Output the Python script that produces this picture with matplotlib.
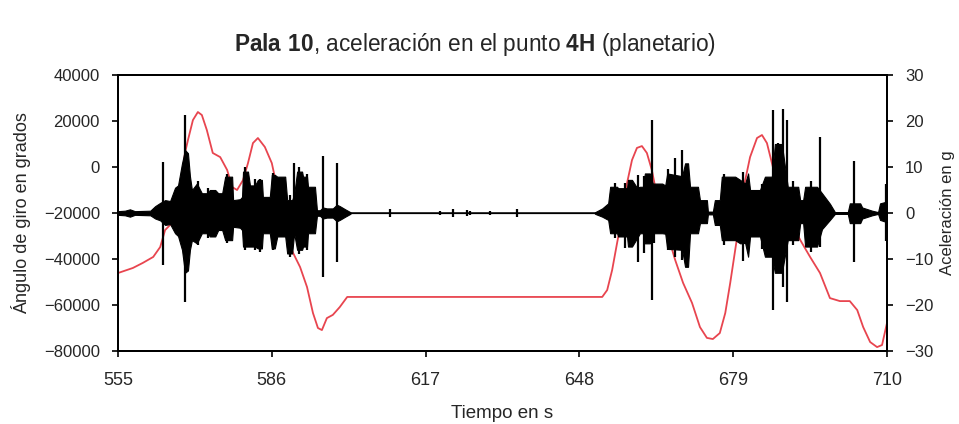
import matplotlib
matplotlib.use("Agg")
import matplotlib.pyplot as plt
import numpy as np

plt.rcParams['font.family'] = ['Liberation Sans', 'DejaVu Sans']
plt.rcParams['mathtext.fontset'] = 'custom'
plt.rcParams['mathtext.rm'] = 'Liberation Sans'
plt.rcParams['mathtext.bf'] = 'Liberation Sans:bold'

# ---- Ángulo de giro (red, left axis) ----
angle_t = [555.0, 558.0, 560.0, 562.1, 563.5, 564.5, 565.5, 566.5, 567.5, 568.5,
           569.1, 570.1, 571.1, 571.9, 572.9, 574.1, 575.6, 577.0, 578.0, 579.0,
           580.2, 581.2, 582.2, 583.2, 584.6, 586.0, 587.6, 589.0, 590.3, 591.7,
           593.1, 594.3, 595.3, 596.1, 597.1, 598.3, 599.7, 601.2, 607.8, 652.6,
           653.6, 654.6, 655.6, 656.6, 657.6, 658.6, 659.6, 660.6, 661.6, 662.6,
           663.8, 665.7, 667.3, 668.9, 670.7, 672.3, 673.7, 674.9, 676.3, 677.4,
           678.4, 679.8, 681.0, 682.4, 683.8, 684.8, 685.8, 687.0, 688.4, 690.5,
           692.5, 694.5, 696.5, 698.5, 700.5, 702.5, 704.0, 705.2, 706.6, 708.0,
           709.0, 710.0]
angle_v = [-46100, -43900, -41700, -39100, -34800, -27400, -25200, -23000, -11300, 6100,
           11700, 20400, 23900, 22600, 16100, 6100, 4300, -1300, -8700, -10000,
           -5700, 1700, 10400, 12600, 8700, 1700, -14300, -30400, -37400, -43500,
           -52200, -63500, -70000, -70900, -65700, -64300, -60900, -56500, -56500, -56500,
           -53500, -44800, -33000, -21700, -7000, 3000, 8300, 9100, 6100, -1300,
           -14300, -28700, -40400, -50400, -59100, -69600, -74300, -74800, -72200, -63500,
           -50400, -30400, -10000, 4300, 12600, 13900, 10400, 0, -11300, -23000,
           -31700, -39100, -46100, -57000, -58300, -58300, -62200, -69600, -76100, -78300,
           -77400, -67800]

# ---- Aceleración (black, right axis): envelope of the vibration signal ----
env_t = [555.0, 556.4, 557.4, 558.4, 561.5, 562.5, 563.5, 564.5, 565.5, 566.5,
         567.1, 567.9, 568.5, 569.1, 569.5, 569.9, 570.9, 571.9, 573.1, 573.5,
         574.6, 575.2, 576.0, 576.6, 578.0, 578.2, 579.6, 580.0, 580.2, 581.2,
         581.6, 582.6, 583.2, 584.0, 584.2, 585.6, 586.0, 586.6, 587.1, 588.7,
         589.1, 590.1, 590.5, 591.1, 592.1, 592.3, 593.1, 593.3, 594.7, 595.1,
         595.7, 596.3, 597.1, 598.3, 599.1, 599.7, 600.8, 601.8, 602.0,
         651.0, 651.2, 652.6, 653.8, 654.2, 655.6, 655.8, 657.6, 657.8, 658.6,
         659.6, 660.2, 660.8, 661.2, 662.2, 662.8, 664.7, 665.3, 665.7, 668.7,
         669.3, 669.9, 670.3, 671.9, 672.3, 673.7, 673.9, 674.9, 675.3, 676.3,
         676.7, 679.4, 680.4, 681.4, 682.0, 682.4, 684.4, 685.4, 686.8, 687.4,
         688.8, 690.0, 692.1, 692.5, 693.1, 693.5, 695.9, 696.9, 698.5, 699.5,
         702.1, 702.5, 704.6, 705.0, 707.0, 708.2, 708.6, 710.0]
env_hi = [0.4, 0.5, 0.8, 0.4, 0.5, 1.5, 2.2, 2.8, 2.6, 5.5,
          6.0, 10.8, 13.7, 13.0, 8.0, 5.0, 6.4, 4.3, 4.3, 5.0,
          5.0, 4.3, 4.3, 7.9, 7.9, 2.8, 3.0, 3.5, 9.0, 9.0,
          6.0, 6.0, 7.2, 7.2, 3.5, 3.5, 8.3, 8.3, 7.9, 7.9,
          2.8, 2.8, 4.0, 9.0, 9.0, 7.9, 7.9, 5.7, 5.7, 0.6,
          0.6, 1.2, 1.0, 1.0, 1.8, 1.5, 0.8, 0.2, 0.0,
          0.0, 0.2, 1.0, 2.1, 5.7, 5.7, 5.4, 5.4, 7.2, 7.2,
          5.5, 5.7, 5.7, 8.6, 8.6, 6.4, 6.4, 6.0, 8.6, 8.0,
          10.8, 10.8, 5.7, 5.7, 2.8, 2.8, 0.3, 0.3, 2.8, 2.8,
          7.9, 7.9, 7.2, 6.4, 8.6, 5.0, 5.0, 7.9, 7.9, 15.0,
          15.0, 5.7, 5.7, 2.8, 2.8, 5.7, 5.7, 4.3, 2.0, 0.2,
          0.2, 2.1, 2.1, 1.2, 0.5, 0.2, 2.1, 2.5]
env_lo = [-0.4, -0.5, -0.8, -0.4, -0.5, -1.2, -1.6, -2.6, -2.4, -4.4,
          -5.0, -8.0, -13.0, -12.5, -8.0, -5.9, -6.6, -4.4, -4.4, -5.1,
          -5.1, -3.7, -3.7, -5.9, -5.9, -3.0, -3.2, -3.7, -7.3, -7.3,
          -7.3, -7.3, -7.7, -7.7, -4.4, -4.4, -7.7, -7.7, -5.1, -5.1,
          -8.8, -8.8, -4.4, -8.0, -8.0, -7.3, -7.3, -4.4, -4.4, -0.6,
          -0.6, -1.2, -1.0, -1.0, -1.8, -1.5, -0.8, -0.2, 0.0,
          0.0, -0.2, -0.8, -1.5, -4.4, -4.4, -5.1, -5.1, -7.3, -7.3,
          -5.5, -4.4, -4.4, -6.6, -6.6, -4.4, -4.4, -4.5, -7.8, -8.0,
          -11.7, -11.7, -4.4, -4.4, -2.2, -2.2, -0.3, -0.3, -2.6, -2.6,
          -5.9, -5.9, -6.6, -6.5, -9.5, -5.1, -5.1, -9.5, -9.5, -13.0,
          -13.0, -5.9, -5.9, -2.2, -2.2, -7.3, -7.3, -3.5, -1.5, -0.2,
          -0.2, -2.2, -2.2, -1.2, -0.5, -0.2, -1.5, -2.0]

# isolated spikes of the acceleration signal
spike_t = [564.1, 568.5, 571.1, 573.1, 576.9, 580.5, 582.6, 583.6, 586.3, 589.6,
           590.5, 591.5, 593.0, 596.3, 599.1,
           609.8, 619.9, 622.5, 625.3, 626.0, 630.0, 635.4,
           655.2, 657.2, 659.8, 661.0, 662.6, 663.0, 665.9, 667.3, 668.7, 677.2,
           680.9, 684.8, 687.0, 688.0, 689.0, 689.8, 691.0, 694.6, 696.5, 703.3,
           709.8]
spike_hi = [11.0, 21.3, 7.0, 5.5, 8.5, 10.0, 7.5, 7.5, 8.8, 4.0,
            10.8, 10.0, 8.5, 12.3, 10.9,
            0.8, 0.4, 0.8, 0.7, 0.4, 0.4, 0.8,
            6.5, 6.5, 8.3, 8.0, 20.2, 3.0, 9.5, 12.0, 13.7, 8.5,
            9.0, 6.4, 22.4, 15.2, 22.7, 20.2, 7.0, 7.0, 16.6, 11.2,
            6.2]
spike_lo = [-11.3, -19.3, -7.0, -5.5, -6.5, -8.0, -8.0, -8.5, -8.0, -9.5,
            -4.4, -9.0, -8.0, -13.9, -10.7,
            -0.8, -0.4, -0.8, -0.7, -0.4, -0.4, -0.8,
            -5.5, -7.5, -10.6, -8.6, -18.9, -6.6, -8.0, -9.5, -10.2, -7.0,
            -10.5, -7.8, -21.1, -13.0, -16.0, -19.3, -7.0, -8.5, -7.3, -10.6,
            -6.0]

x_ticks = [555, 586, 617, 648, 679, 710]
left_ticks = [-80000, -60000, -40000, -20000, 0, 20000, 40000]
right_ticks = [-30, -20, -10, 0, 10, 20, 30]

fig = plt.figure(figsize=(9.59, 4.24), dpi=100)
ax = fig.add_axes([118/959, 1-351/424, (887-118)/959, (351-75)/424])
ax2 = ax.twinx()

text_color = '#262626'

ax.plot(angle_t, angle_v, color='#e8454f', lw=1.3)
ax.set_xlim(555, 710)
ax.set_ylim(-80000, 40000)
ax.set_xticks(x_ticks)
ax.set_yticks(left_ticks)
ax.set_ylabel('Ángulo de giro en grados', fontsize=13, color=text_color, labelpad=9)
ax.set_xlabel('Tiempo en s', fontsize=13.5, color=text_color, labelpad=12)

ax2.axhline(0, color='black', lw=1.1)
ax2.fill_between(env_t, env_lo, env_hi, color='black', lw=0.8)
ax2.vlines(spike_t, spike_lo, spike_hi, color='black', lw=1.6)
ax2.set_ylim(-30, 30)
ax2.set_yticks(right_ticks)
ax2.set_ylabel('Aceleración en g', fontsize=12, color=text_color, labelpad=5)

for a in (ax, ax2):
    for s in a.spines.values():
        s.set_linewidth(1.4)
        s.set_color('black')
    a.tick_params(direction='out', length=4, width=1.2, labelsize=12,
                  labelcolor=text_color, pad=9)
ax.tick_params(axis='x', labelsize=13, pad=11)

fig.text(475/959, 1-44/424,
         r'$\mathbf{Pala\ 10}$, aceleración en el punto $\mathbf{4H}$ (planetario)',
         ha='center', va='center', fontsize=16.3, color=text_color)

fig.savefig('out.png', dpi=100)
